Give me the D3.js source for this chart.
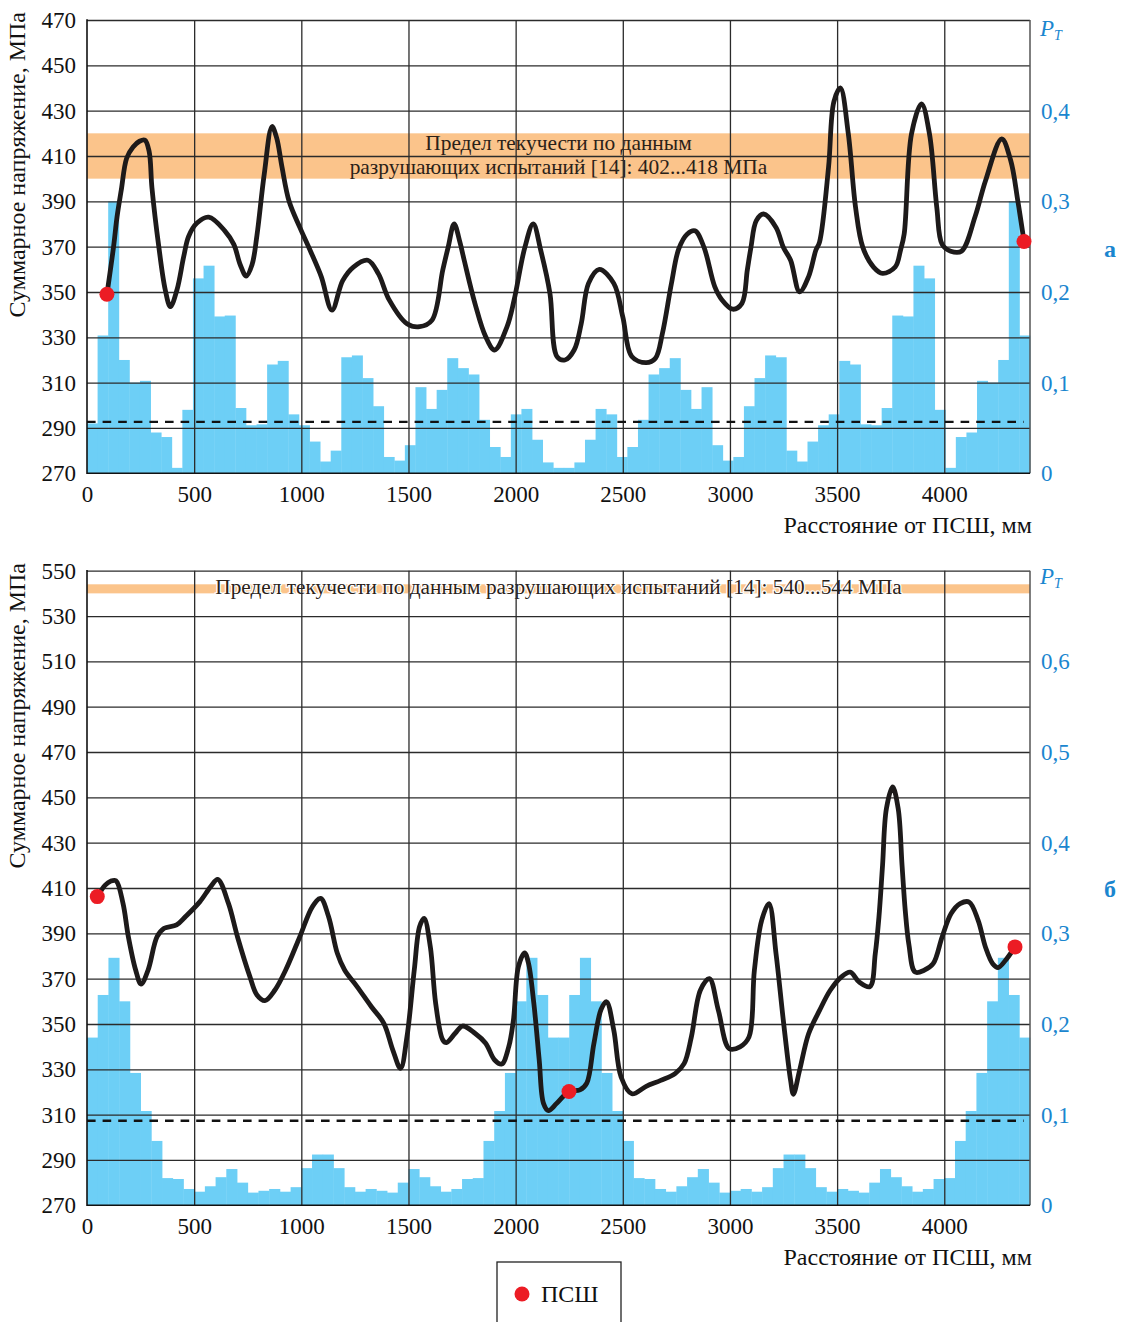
<!DOCTYPE html>
<html><head><meta charset="utf-8">
<script src="https://cdn.jsdelivr.net/npm/d3@7"></script>
<style>
body{margin:0;background:#fff}
svg{display:block}
svg text{font-family:"Liberation Serif","Times New Roman",serif !important}
</style>
</head><body>
<svg id="chart" width="1125" height="1322"></svg>
<script>
// ---------------- DATA ----------------
const xTicks = [0, 500, 1000, 1500, 2000, 2500, 3000, 3500, 4000];
const xMax = 4400;

const topStressTicks = [270, 290, 310, 330, 350, 370, 390, 410, 430, 450, 470];
const topPtTicks = [0, 0.1, 0.2, 0.3, 0.4];
const topPtLabels = ["0", "0,1", "0,2", "0,3", "0,4"];
const botStressTicks = [270, 290, 310, 330, 350, 370, 390, 410, 430, 450, 470, 490, 510, 530, 550];
const botPtTicks = [0, 0.1, 0.2, 0.3, 0.4, 0.5, 0.6];
const botPtLabels = ["0", "0,1", "0,2", "0,3", "0,4", "0,5", "0,6"];

// P_T histogram, panel а (89 bins over 0..4400 mm)
const topBins = [0.055, 0.152, 0.300, 0.125, 0.100, 0.102, 0.045, 0.040, 0.006, 0.070,
  0.215, 0.229, 0.173, 0.174, 0.072, 0.053, 0.054, 0.120, 0.124, 0.065,
  0.053, 0.035, 0.013, 0.025, 0.128, 0.130, 0.105, 0.074, 0.018, 0.014,
  0.031, 0.095, 0.071, 0.092, 0.127, 0.116, 0.109, 0.059, 0.029, 0.018,
  0.065, 0.071, 0.037, 0.012, 0.006, 0.006, 0.012, 0.037, 0.071, 0.065,
  0.018, 0.029, 0.059, 0.109, 0.116, 0.127, 0.092, 0.071, 0.095, 0.031,
  0.014, 0.018, 0.074, 0.105, 0.130, 0.128, 0.025, 0.013, 0.035, 0.053,
  0.065, 0.124, 0.120, 0.054, 0.053, 0.072, 0.174, 0.173, 0.229, 0.215,
  0.070, 0.006, 0.040, 0.045, 0.102, 0.100, 0.125, 0.300, 0.152];

// P_T histogram, panel б (88 bins of 50 mm)
const botBins = [0.185, 0.232, 0.273, 0.225, 0.146, 0.104, 0.071, 0.030, 0.029, 0.018,
  0.015, 0.021, 0.031, 0.040, 0.025, 0.014, 0.016, 0.018, 0.015, 0.020,
  0.041, 0.056, 0.056, 0.041, 0.020, 0.015, 0.018, 0.016, 0.014, 0.025,
  0.040, 0.031, 0.021, 0.015, 0.018, 0.029, 0.030, 0.071, 0.104, 0.146,
  0.225, 0.273, 0.232, 0.185,
  0.185, 0.232, 0.273, 0.225, 0.146, 0.104, 0.071, 0.030, 0.029, 0.018,
  0.015, 0.021, 0.031, 0.040, 0.025, 0.014, 0.016, 0.018, 0.015, 0.020,
  0.041, 0.056, 0.056, 0.041, 0.020, 0.015, 0.018, 0.016, 0.014, 0.025,
  0.040, 0.031, 0.021, 0.015, 0.018, 0.029, 0.030, 0.071, 0.104, 0.146,
  0.225, 0.273, 0.232, 0.185];

// Total stress curve [mm, MPa], panel а
const topCurve = [[93,349],[124,370],[140,383],[160,395],[185,409],[215,414],[245,416.5],[270,417],
  [290,412],[303,396],[335,370],[365,351],[389,343.5],[420,351],[451,365.5],[474,374.5],[513,380.4],
  [568,383],[643,377],[685,371],[715,362],[743,357],[770,362],[793,375],[827,402],[863,423],[885,418],
  [910,405],[943,390],[993,378.5],[1043,368],[1093,356.8],[1143,342],[1193,355],[1243,361],[1310,364],
  [1360,358],[1410,346.5],[1493,336],[1552,334.7],[1610,337.6],[1660,359.7],[1685,369.7],[1713,380],
  [1740,372],[1760,364],[1810,345],[1860,330.3],[1902,324.4],[1960,334.7],[1993,346.5],[2043,369.7],
  [2082,380],[2118,368],[2160,349.4],[2193,321.5],[2230,320],[2273,324.4],[2306,336],[2340,353.8],
  [2390,360],[2458,353.8],[2500,339],[2542,321.5],[2609,318.8],[2652,320.7],[2685,331.8],[2727,353.8],
  [2761,369],[2800,375.5],[2837,377],[2879,369.7],[2929,352.4],[2963,346.5],[3013,342.4],[3056,345],
  [3081,359.7],[3098,369.7],[3123,381.5],[3157,384.4],[3215,378.5],[3249,369.7],[3283,364],[3325,350.1],
  [3367,356.8],[3401,368.5],[3418,372],[3460,405],[3485,434],[3515,440],[3552,420],[3586,387.4],
  [3620,369.7],[3670,361],[3712,358.2],[3771,361],[3796,368.5],[3813,375.6],[3847,419.7],[3894,433],
  [3931,419.7],[3965,387.4],[3990,371],[4030,368],[4080,368],[4144,383.3],[4192,399],[4268,417.5],
  [4310,408],[4343,390.3],[4372,372.3]];

// Total stress curve [mm, MPa], panel б
const botCurve = [[48,406.2],[85,411.3],[110,413],[135,413.2],[168,403.2],[193,388.5],[227,373.8],
  [252,367.6],[285,373.8],[327,388.5],[360,392.2],[418,393.7],[460,397.4],[527,404],[577,410.6],
  [610,413.8],[660,403.2],[702,388.5],[760,370.9],[793,362.8],[830,360.3],[877,365],[927,373.8],
  [993,388.5],[1052,401.8],[1090,405.4],[1127,397.4],[1168,381.2],[1202,373.8],[1260,366.5],
  [1327,357.6],[1385,350.3],[1427,338.5],[1463,330.4],[1493,344.4],[1527,373.8],[1552,393],
  [1573,396.6],[1602,384],[1627,359],[1660,343],[1677,341.8],[1718,345.9],[1752,349.1],[1810,345.9],
  [1860,341.5],[1902,334.1],[1935,332.3],[1968,340],[1990,352],[2013,375.3],[2042,381.4],[2060,376.8],
  [2085,359],[2110,334.1],[2130,315],[2153,311.8],[2192,315],[2249,320.2],[2300,320.9],[2332,323.9],
  [2365,341.3],[2399,356.5],[2424,359.8],[2458,347.2],[2492,326.6],[2542,319.2],[2609,322.5],
  [2677,325.1],[2744,328.1],[2786,332.5],[2820,344.3],[2862,364.9],[2904,370],[2946,356],[2997,339.1],
  [3047,339.9],[3089,344.3],[3114,373.7],[3148,395.7],[3182,403.1],[3215,381],[3249,351.6],[3283,325.1],
  [3296,319],[3325,329.6],[3367,345.7],[3418,356],[3468,364.9],[3519,370.7],[3561,372.9],[3603,368.5],
  [3653,366.5],[3678,381],[3695,397],[3712,420],[3730,445],[3759,454.6],[3785,445],[3803,420],
  [3818,400],[3835,385],[3864,372.9],[3906,373.7],[3948,376.6],[3990,388.4],[4032,398.7],[4074,403.1],
  [4116,403.8],[4158,395.7],[4192,384],[4226,376.6],[4251,374.9],[4285,378],[4330,384]];

// ПСШ points [mm, MPa]
const topPoints = [[93,349],[4372,372.3]];
const botPoints = [[48,406.2],[2249,320.2],[4330,384]];

// yield-limit bands [MPa] and mean lines [MPa]
const topBand = [400, 420];
const botBand = [540, 544];
const topMean = 292.7;
const botMean = 307.3;
const meanLineEnd = 4370;

const topBandText = ["Предел текучести по данным", "разрушающих испытаний [14]: 402...418 МПа"];
const botBandText = ["Предел текучести по данным разрушающих испытаний [14]: 540...544 МПа"];
const yTitle = "Суммарное напряжение, МПа";
const xTitle = "Расстояние от ПСШ, мм";
const legendLabel = "ПСШ";

// ---------------- DRAW ----------------
const svg = d3.select("#chart");
const SERIF = '"Liberation Serif","Times New Roman",serif';
const BLUE_TXT = "#1a86cf";
const BAR = "#6dcff6";
const ORANGE = "#fbc48b";
const RED = "#ec1c24";
const GRID = "#2b2b2b";

const x = d3.scaleLinear().domain([0, xMax]).range([87, 1030]);

function styleAxisText(sel, color) {
  sel.attr("font-family", SERIF).attr("font-size", 23);
  sel.selectAll("text").style("font-family", SERIF).style("font-size", "23px").attr("fill", color);
}

function drawPanel(cfg) {
  const g = svg.append("g");
  const y = d3.scaleLinear().domain(cfg.stressDomain).range([cfg.bottom, cfg.top]);
  const yp = d3.scaleLinear().domain(cfg.ptDomain).range([cfg.bottom, cfg.top]);
  const bw = cfg.binWidth;

  // histogram
  g.append("g").selectAll("rect").data(cfg.bins).join("rect")
    .attr("x", (d, i) => x(i * bw))
    .attr("width", (d, i) => x(Math.min((i + 1) * bw, xMax)) - x(i * bw) + 0.4)
    .attr("y", d => yp(d))
    .attr("height", d => yp(0) - yp(d))
    .attr("fill", BAR);

  // band
  g.append("rect")
    .attr("x", x(0)).attr("width", x(xMax) - x(0))
    .attr("y", y(cfg.band[1])).attr("height", y(cfg.band[0]) - y(cfg.band[1]))
    .attr("fill", ORANGE);

  // band text
  const bt = g.append("text").attr("text-anchor", "middle")
    .attr("font-size", cfg.bandFont).attr("fill", "#2a2118");
  if (cfg.halo) bt.attr("stroke", "#fff").attr("stroke-width", 2.5).attr("paint-order", "stroke");
  cfg.bandText.forEach((t, i) => {
    bt.append("tspan").attr("x", (x(0) + x(xMax)) / 2).attr("y", cfg.bandTextY[i]).text(t);
  });

  // grid horizontal
  g.append("g").attr("transform", `translate(${x(0)},0)`)
    .call(d3.axisLeft(y).tickValues(cfg.stressTicks.slice(1)).tickSize(-(x(xMax) - x(0))).tickFormat(""))
    .call(s => s.select(".domain").remove())
    .selectAll("line").attr("stroke", GRID).attr("stroke-width", 1.3);
  // grid vertical
  g.append("g").attr("transform", `translate(0,${y(cfg.stressDomain[0])})`)
    .call(d3.axisBottom(x).tickValues(xTicks.slice(1)).tickSize(-(y(cfg.stressDomain[0]) - y(cfg.stressDomain[1]))).tickFormat(""))
    .call(s => s.select(".domain").remove())
    .selectAll("line").attr("stroke", GRID).attr("stroke-width", 1.3);

  // frame
  g.append("line").attr("x1", x(xMax)).attr("x2", x(xMax)).attr("y1", y(cfg.stressDomain[1])).attr("y2", y(cfg.stressDomain[0]))
    .attr("stroke", "#555").attr("stroke-width", 1.5);
  g.append("line").attr("x1", x(0)).attr("x2", x(xMax)).attr("y1", y(cfg.stressDomain[0])).attr("y2", y(cfg.stressDomain[0]))
    .attr("stroke", "#111").attr("stroke-width", 1.6);
  g.append("line").attr("x1", x(0)).attr("x2", x(0)).attr("y1", y(cfg.stressDomain[1]) - 0.7).attr("y2", y(cfg.stressDomain[0]) + 0.8)
    .attr("stroke", "#111").attr("stroke-width", 1.6);

  // mean dashed line
  g.append("line").attr("x1", x(0)).attr("x2", x(meanLineEnd))
    .attr("y1", y(cfg.mean)).attr("y2", y(cfg.mean))
    .attr("stroke", "#111").attr("stroke-width", 2.4).attr("stroke-dasharray", "8.6,7");

  // curve
  const line = d3.line().x(d => x(d[0])).y(d => y(d[1])).curve(d3.curveCatmullRom.alpha(0.5));
  g.append("path").datum(cfg.curve).attr("d", line)
    .attr("fill", "none").attr("stroke", "#1d1a1a").attr("stroke-width", 4.8)
    .attr("stroke-linecap", "round").attr("stroke-linejoin", "round");

  // points
  g.append("g").selectAll("circle").data(cfg.points).join("circle")
    .attr("cx", d => x(d[0])).attr("cy", d => y(d[1])).attr("r", 7.5).attr("fill", RED);

  // left axis labels
  const la = g.append("g").attr("transform", `translate(${x(0)},0)`)
    .call(d3.axisLeft(y).tickValues(cfg.stressTicks).tickFormat(d3.format("d")).tickSize(0).tickPadding(11));
  la.select(".domain").remove();
  styleAxisText(la, "#111");

  // right axis labels
  const ra = g.append("g").attr("transform", `translate(${x(xMax)},0)`)
    .call(d3.axisRight(yp).tickValues(cfg.ptTicks).tickFormat((d, i) => cfg.ptLabels[i]).tickSize(0).tickPadding(11));
  ra.select(".domain").remove();
  styleAxisText(ra, BLUE_TXT);

  // bottom axis labels
  const ba = g.append("g").attr("transform", `translate(0,${y(cfg.stressDomain[0])})`)
    .call(d3.axisBottom(x).tickValues(xTicks).tickFormat(d3.format("d")).tickSize(0).tickPadding(12));
  ba.select(".domain").remove();
  styleAxisText(ba, "#111");

  // x title
  g.append("text").attr("x", 1032).attr("y", cfg.xTitleY).attr("text-anchor", "end")
    .attr("font-size", 24).attr("fill", "#111").text(xTitle);

  // y title
  g.append("text").attr("transform", `translate(25,${cfg.yTitleTop}) rotate(-90)`)
    .attr("text-anchor", "end").attr("font-size", 24).attr("fill", "#111").text(yTitle);

  // P_T label
  const pt = g.append("text").attr("x", 1040).attr("y", cfg.ptLabelY).attr("fill", BLUE_TXT)
    .attr("font-style", "italic").attr("font-size", 23);
  pt.append("tspan").text("P");
  pt.append("tspan").attr("font-size", 14).attr("dy", 4).text("T");

  // panel letter
  g.append("text").attr("x", 1104).attr("y", cfg.letterY).attr("fill", BLUE_TXT)
    .attr("font-weight", "bold").attr("font-size", 24).text(cfg.letter);
}

drawPanel({
  top: 20, bottom: 473.3, stressDomain: [270, 470], ptDomain: [0, 0.5],
  stressTicks: topStressTicks, ptTicks: topPtTicks, ptLabels: topPtLabels,
  bins: topBins, binWidth: xMax / topBins.length,
  band: topBand, bandText: topBandText, bandTextY: [150, 174], bandFont: 21.4, halo: false,
  mean: topMean, curve: topCurve, points: topPoints,
  xTitleY: 533, yTitleTop: 12, ptLabelY: 36, letter: "а", letterY: 257
});

drawPanel({
  top: 570.7, bottom: 1205.3, stressDomain: [270, 550], ptDomain: [0, 0.7],
  stressTicks: botStressTicks, ptTicks: botPtTicks, ptLabels: botPtLabels,
  bins: botBins, binWidth: 50,
  band: botBand, bandText: botBandText, bandTextY: [594], bandFont: 21.3, halo: true,
  mean: botMean, curve: botCurve, points: botPoints,
  xTitleY: 1265, yTitleTop: 563, ptLabelY: 584, letter: "б", letterY: 897
});

// legend
const lg = svg.append("g");
lg.append("rect").attr("x", 497).attr("y", 1262).attr("width", 124).attr("height", 90)
  .attr("fill", "#fff").attr("stroke", "#222").attr("stroke-width", 1.3);
lg.append("circle").attr("cx", 522).attr("cy", 1294).attr("r", 7.5).attr("fill", RED);
lg.append("text").attr("x", 541).attr("y", 1302).attr("font-size", 24).attr("fill", "#111").text(legendLabel);
</script>
</body></html>
